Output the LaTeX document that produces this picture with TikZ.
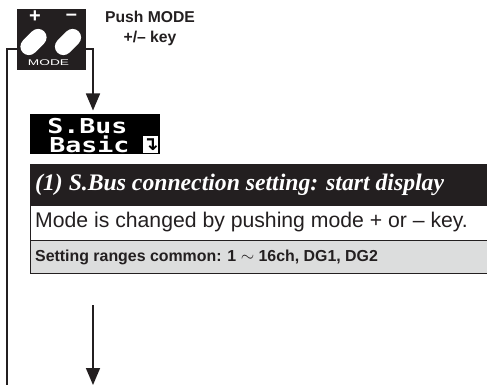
\documentclass[tikz,border=0pt]{standalone}
\usepackage{fontspec}
\setmainfont{Liberation Sans}
\newfontfamily\titlefont{Liberation Serif}
\newfontfamily\lcdfont{DejaVu Sans Mono}
\newfontfamily\iconfont{DejaVu Sans}
\usetikzlibrary{arrows.meta}
\definecolor{panelblack}{HTML}{231F20}
\definecolor{rowgray}{HTML}{DCDDDD}
\tikzset{
  flowline/.style={draw=panelblack,line width=1.6pt},
  flowarrow/.style={flowline,-{Triangle[length=17pt,width=14pt]}},
  rowbox/.style={draw=panelblack,line width=.5pt,anchor=north west,minimum width=470pt,inner sep=0pt},
  rowtext/.style={anchor=west,inner sep=0pt,text=panelblack},
  lcdline/.style={anchor=west,inner sep=0pt,text=white,xscale=1.3,font=\lcdfont\bfseries\fontsize{20.5}{20}\selectfont},
  keybtn/.style={fill=white,rounded corners=8.5pt,minimum width=30pt,minimum height=17pt,inner sep=0pt,rotate=45}
}
\begin{document}
\begin{tikzpicture}[x=1pt,y=-1pt]
  \useasboundingbox (0,0) rectangle (487,385);

  % key panel
  \node[fill=panelblack,anchor=north west,minimum width=69pt,minimum height=61pt,inner sep=0pt] (panel) at (17,9) {};
  \node[keybtn] (plusbtn) at (33.5,42) {};
  \node[keybtn] (minusbtn) at (68,42) {};
  \node[text=white,inner sep=0pt,font=\bfseries\fontsize{20}{20}\selectfont] (plus) at (35,17) {+};
  \node[text=white,inner sep=0pt,font=\bfseries\fontsize{20}{20}\selectfont] (minus) at (71.5,17) {--};
  \node[text=white,inner sep=0pt,xscale=1.65,font=\fontsize{8.3}{9}\selectfont] (mode) at (48.5,63) {MODE};
  \node[align=center,inner sep=0pt,text=panelblack,font=\bfseries\fontsize{15.7}{20}\selectfont] (push) at (150,28.5) {Push MODE\\+/-- key};

  % display
  \node[fill=black,anchor=north west,minimum width=130pt,minimum height=40pt,inner sep=0pt] (lcd) at (30,114) {};
  \node[lcdline] (lcdtop) at (47,125.7) {S.Bus};
  \node[lcdline] (lcdbottom) at (49,144) {Basic};
  \node[fill=white,minimum width=15pt,minimum height=17pt,inner sep=0pt] (lcdicon) at (150.5,144.5) {};
  \node[inner sep=0pt,font=\iconfont\bfseries\fontsize{19}{19}\selectfont] (lcdglyph) at (lcdicon) {↴};

  % rows
  \node[rowbox,fill=panelblack,minimum height=41pt] (titlerow) at (30,164) {};
  \node[rowbox,fill=white,minimum height=35pt] (moderow) at (30,205) {};
  \node[rowbox,fill=rowgray,minimum height=33pt] (rangerow) at (30,240) {};
  \node[rowtext,text=white,font=\titlefont\bfseries\itshape\fontsize{23.7}{26}\selectfont] (titletext) at (35,184.5) {(1) S.Bus connection setting: start display};
  \node[rowtext,font=\fontsize{21.2}{24}\selectfont] (modetext) at (35,222.5) {Mode is changed by pushing mode + or -- key.};
  \node[rowtext,font=\bfseries\fontsize{15.9}{18}\selectfont] (rangetext) at (35,257) {Setting ranges common: 1 $\sim$ 16ch, DG1, DG2};

  % connectors
  \coordinate (leftend) at (7,385);
  \coordinate (arrowstart) at (93,305);
  \coordinate (arrowend) at (93,385);
  \draw[flowline] (panel.west |- 0,49) -- (7,49) -- (leftend);
  \draw[flowarrow] (panel.east |- 0,49) -- (93,49) -- (93,110.5);
  \draw[flowarrow] (arrowstart) -- (arrowend);
\end{tikzpicture}
\end{document}
